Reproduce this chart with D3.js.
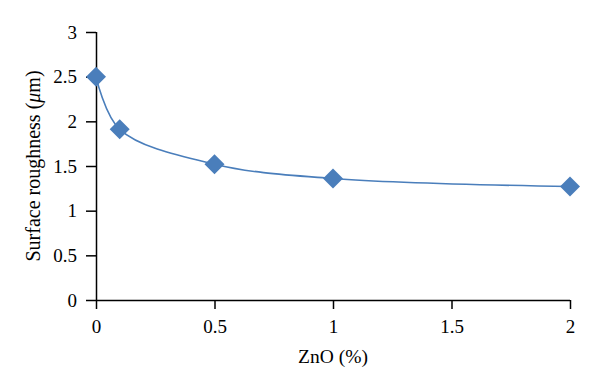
<!DOCTYPE html>
<html><head><meta charset="utf-8">
<script src="https://cdn.jsdelivr.net/npm/d3@7"></script>
<style>body{margin:0;background:#fff}</style>
</head><body>
<svg id="c" width="600" height="391"></svg>
<script>
const xValues = [0, 0.1, 0.5, 1, 2];
const yValues = [2.5, 1.91, 1.52, 1.36, 1.27];
const xTicks = [0, 0.5, 1, 1.5, 2];
const yTicks = [0, 0.5, 1, 1.5, 2, 2.5, 3];
const xTitle = "ZnO (%)";

const svg = d3.select("#c");
const font = "Liberation Serif";
const x = d3.scaleLinear().domain([0, 2]).range([96, 570]);
const y = d3.scaleLinear().domain([0, 3]).range([300, 32]);
const color = "#4a7ebb";

const xa = svg.append("g").attr("transform", "translate(0,300)")
  .call(d3.axisBottom(x).tickValues(xTicks).tickSize(9).tickPadding(11).tickFormat(d3.format("")));
const ya = svg.append("g").attr("transform", "translate(96,0)")
  .call(d3.axisLeft(y).tickValues(yTicks).tickSize(10).tickPadding(9).tickFormat(d3.format("")));
[xa, ya].forEach(a => {
  a.attr("font-family", font).attr("font-size", 19);
  a.select(".domain").attr("stroke", "#000").attr("stroke-width", 1.5);
  a.selectAll(".tick line").attr("stroke", "#000").attr("stroke-width", 1.5);
  a.selectAll(".tick text").style("font-family", font).style("font-size", "19px").attr("fill", "#000");
});
ya.select(".domain").attr("d", "M0.5," + y(3) + "V" + y(0));
xa.select(".domain").attr("d", "M" + x(0) + ",0.5H" + x(2));

const pts = xValues.map((v, i) => [x(v), y(yValues[i])]);
svg.append("path").attr("d", d3.line().curve(d3.curveCatmullRom.alpha(0.5))(pts))
  .attr("fill", "none").attr("stroke", color).attr("stroke-width", 1.6);
svg.selectAll(".m").data(pts).enter().append("path")
  .attr("d", d3.symbol().type(d3.symbolSquare).size(200))
  .attr("transform", d => `translate(${d[0]},${d[1]}) rotate(45)`)
  .attr("fill", color);

svg.append("text").attr("x", 333).attr("y", 363).attr("text-anchor", "middle")
  .style("font-family", font).style("font-size", "19.5px").text(xTitle);
const yt = svg.append("text").attr("transform", "translate(40,166) rotate(-90)")
  .attr("text-anchor", "middle").style("font-family", font).style("font-size", "20px");
yt.append("tspan").text("Surface roughness (");
yt.append("tspan").attr("font-style", "italic").text("μ");
yt.append("tspan").text("m)");
</script>
</body></html>
